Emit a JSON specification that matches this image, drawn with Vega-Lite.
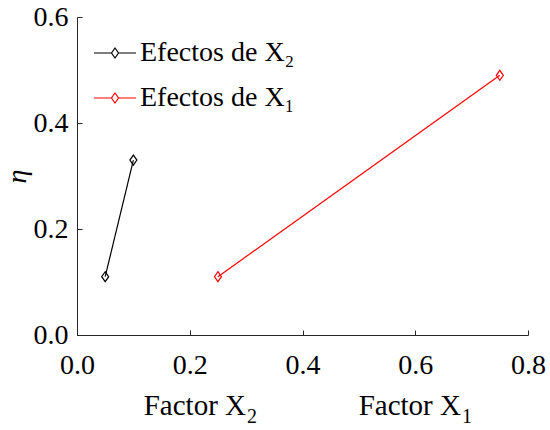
{
  "$schema": "https://vega.github.io/schema/vega-lite/v6.json",
  "width": 451,
  "height": 318,
  "autosize": {"type": "none"},
  "padding": {"left": 77, "top": 17, "right": 22, "bottom": 95},
  "background": "white",
  "config": {
    "view": {"stroke": null},
    "font": "Liberation Serif",
    "axis": {
      "grid": false,
      "domainColor": "#262626",
      "tickColor": "#262626",
      "labelColor": "#000000",
      "labelFont": "Liberation Serif",
      "labelFontSize": 28,
      "tickSize": -5,
      "labelPadding": 14,
      "domainWidth": 1,
      "tickWidth": 1,
      "labelFlush": false
    },
    "legend": {
      "orient": "none",
      "legendX": 16,
      "legendY": 14,
      "symbolType": "M-1,0L-0.167,0M0.167,0L1,0M0,-0.238L0.167,0L0,0.238L-0.167,0Z",
      "symbolSize": 1764,
      "symbolStrokeWidth": 1.2,
      "labelFont": "Liberation Serif",
      "labelFontSize": 28,
      "labelColor": "#000000",
      "labelOffset": 3,
      "rowPadding": 9,
      "labelLimit": 400
    }
  },
  "datasets": {
    "series": [
      {"serie": "Efectos de X₂", "x": 0.05, "y": 0.11},
      {"serie": "Efectos de X₂", "x": 0.10, "y": 0.33},
      {"serie": "Efectos de X₁", "x": 0.25, "y": 0.11},
      {"serie": "Efectos de X₁", "x": 0.75, "y": 0.49}
    ],
    "titles": [
      {"label": "Factor X", "sub": "2", "x": 0.2998, "y": -0.151},
      {"label": "Factor X", "sub": "1", "x": 0.681, "y": -0.151}
    ]
  },
  "encoding": {
    "x": {
      "field": "x",
      "type": "quantitative",
      "scale": {"domain": [0, 0.8], "nice": false, "zero": false},
      "axis": {"values": [0, 0.2, 0.4, 0.6, 0.8], "format": ".1f", "title": null, "labelPadding": 21, "labelFont": "Liberation Serif", "labelFlush": false}
    },
    "y": {
      "field": "y",
      "type": "quantitative",
      "scale": {"domain": [0, 0.6], "nice": false, "zero": false},
      "axis": {
        "values": [0, 0.2, 0.4, 0.6],
        "format": ".1f",
        "labelFont": "Liberation Serif",
        "title": "η",
        "titleFont": "Liberation Serif",
        "titleFontSize": 28,
        "titleFontStyle": "italic",
        "titleFontWeight": "normal",
        "titleColor": "#000000",
        "titlePadding": 2
      }
    },
    "color": {
      "field": "serie",
      "type": "nominal",
      "scale": {"domain": ["Efectos de X₂", "Efectos de X₁"], "range": ["#000000", "#ff0000"]},
      "legend": {"title": null}
    }
  },
  "layer": [
    {
      "data": {"name": "series"},
      "mark": {"type": "line", "strokeWidth": 1.2}
    },
    {
      "data": {"name": "series"},
      "mark": {
        "type": "point",
        "shape": "M0,-1L0.7,0L0,1L-0.7,0Z",
        "filled": false,
        "size": 100,
        "strokeWidth": 1.2,
        "opacity": 1
      }
    },
    {
      "data": {"name": "titles"},
      "mark": {"type": "text", "fontSize": 29, "font": "Liberation Serif", "baseline": "alphabetic", "align": "right"},
      "encoding": {
        "text": {"field": "label"},
        "color": {"value": "#000000"}
      }
    },
    {
      "data": {"name": "titles"},
      "mark": {"type": "text", "fontSize": 20, "font": "Liberation Serif", "baseline": "alphabetic", "align": "left", "dx": 1, "dy": 8},
      "encoding": {
        "text": {"field": "sub"},
        "color": {"value": "#000000"}
      }
    }
  ]
}
